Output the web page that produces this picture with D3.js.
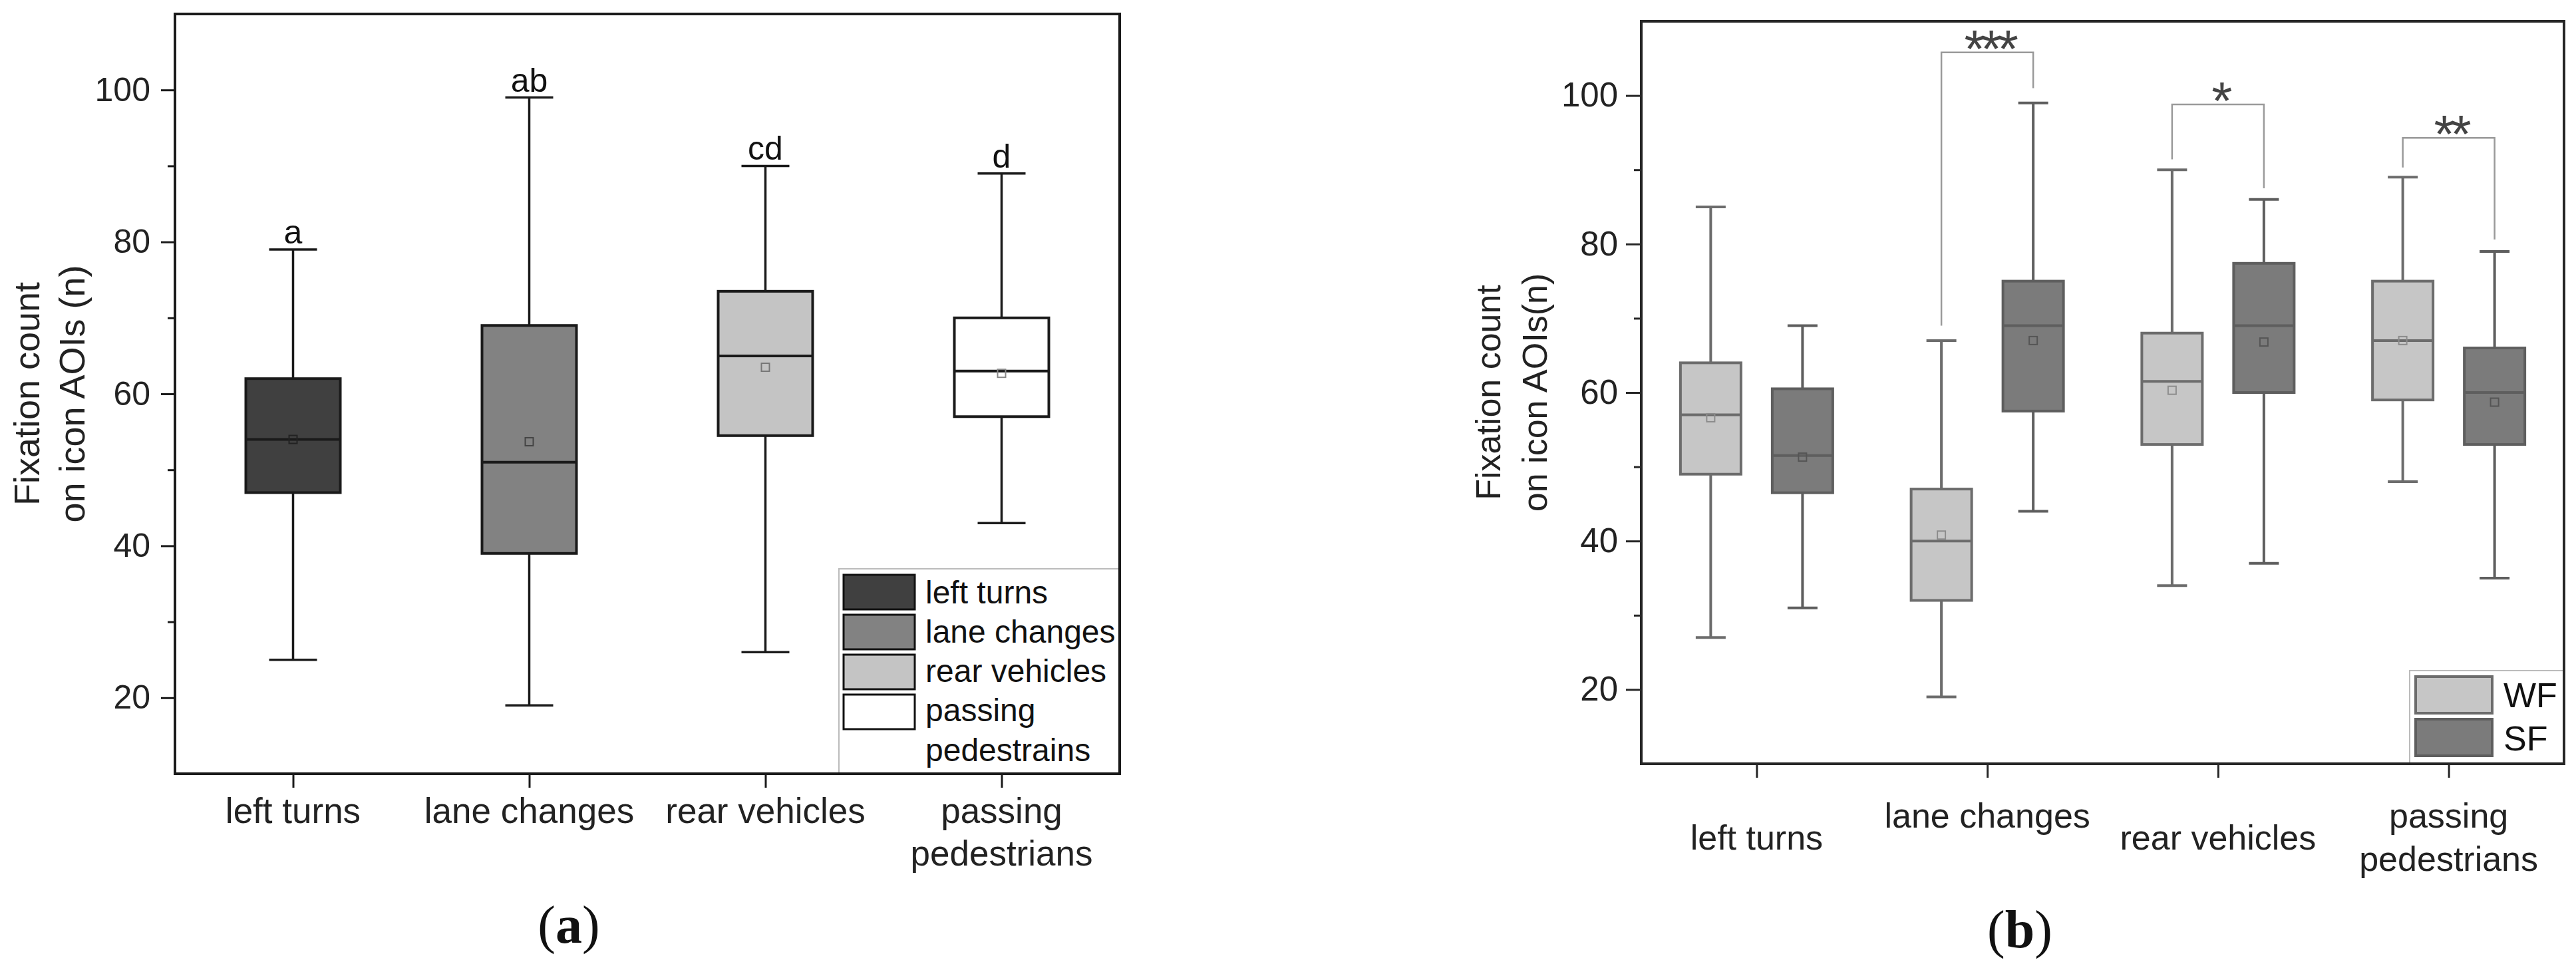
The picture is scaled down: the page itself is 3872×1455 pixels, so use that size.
<!DOCTYPE html>
<html>
<head>
<meta charset="utf-8">
<script src="https://cdn.jsdelivr.net/npm/d3@7"></script>
<style>
  body { margin: 0; background: #fff; }
  svg text { font-family: "Liberation Sans", Arial, sans-serif; }
</style>
</head>
<body>
<div id="chart"></div>
<script>
// categories and tick labels
const categories = ['left turns', 'lane changes', 'rear vehicles', 'passing pedestrians'];
const aTickLines = [['left turns'], ['lane changes'], ['rear vehicles'], ['passing', 'pedestrians']];
const bTickLines = [['left turns'], ['lane changes', ''], ['rear vehicles'], ['passing', 'pedestrians']];
const majorTicks = [20, 40, 60, 80, 100];
const minorTicks = [30, 50, 70, 90];

// panel (a): one box per category
const aLow = [25, 19, 26, 43];
const aQ1 = [47, 39, 54.5, 57];
const aMedian = [54, 51, 65, 63];
const aQ3 = [62, 69, 73.5, 70];
const aHigh = [79, 99, 90, 89];
const aMean = [54, 53.7, 63.5, 62.7];
const aLetters = ['a', 'ab', 'cd', 'd'];
const aLegend = [['left turns'], ['lane changes'], ['rear vehicles'], ['passing', 'pedestrains']];

// panel (b): WF vs SF
const groups = ['WF', 'SF'];
const wfLow = [27, 19, 34, 48];
const wfQ1 = [49, 32, 53, 59];
const wfMedian = [57, 40, 61.5, 67];
const wfQ3 = [64, 47, 68, 75];
const wfHigh = [85, 67, 90, 89];
const wfMean = [56.6, 40.8, 60.3, 67];
const sfLow = [31, 44, 37, 35];
const sfQ1 = [46.5, 57.5, 60, 53];
const sfMedian = [51.5, 69, 69, 60];
const sfQ3 = [60.5, 75, 77.4, 66];
const sfHigh = [69, 99, 86, 79];
const sfMean = [51.3, 67, 66.8, 58.7];

// significance brackets (category index, top, left leg end, right leg end)
const sigCat = [1, 2, 3];
const sigTop = [105.8, 98.8, 94.3];
const sigLeftEnd = [69, 91.4, 90.3];
const sigRightEnd = [101, 87.5, 80.6];
const sigLabels = ['***', '*', '**'];

const W = 3872, H = 1455;
const svg = d3.select('#chart').append('svg')
  .attr('width', W).attr('height', H);
svg.append('rect').attr('width', W).attr('height', H).attr('fill', '#fff');

function drawAxes(g, x, y, opt) {
  const [x0, x1] = x.range();
  const [y0, y1] = y.range();

  // minor ticks
  g.append('g')
    .attr('transform', `translate(${x0},0)`)
    .call(d3.axisLeft(y).tickValues(minorTicks).tickSize(11).tickSizeOuter(0).tickFormat(''))
    .call(s => s.select('.domain').remove())
    .call(s => s.selectAll('line').attr('stroke', opt.axisColor).attr('stroke-width', 3));

  // major ticks
  g.append('g')
    .attr('transform', `translate(${x0},0)`)
    .call(d3.axisLeft(y).tickValues(majorTicks).tickSize(opt.tickLen).tickPadding(opt.tickPad).tickSizeOuter(0))
    .call(s => s.select('.domain').remove())
    .call(s => s.selectAll('line').attr('stroke', opt.axisColor).attr('stroke-width', 3))
    .call(s => s.selectAll('text')
      .attr('font-size', opt.tickFont)
      .attr('fill', '#222')
      .style('font-family', '"Liberation Sans", Arial, sans-serif'));

  // x ticks
  g.append('g')
    .attr('transform', `translate(0,${y0})`)
    .call(d3.axisBottom(x).tickSize(21).tickSizeOuter(0).tickFormat(''))
    .call(s => s.select('.domain').remove())
    .call(s => s.selectAll('line').attr('stroke', opt.axisColor).attr('stroke-width', 3));

  // frame
  g.append('rect')
    .attr('x', x0).attr('y', y1)
    .attr('width', x1 - x0).attr('height', y0 - y1)
    .attr('fill', 'none')
    .attr('stroke', opt.axisColor)
    .attr('stroke-width', 4);
}

function drawBox(g, cx, w, capW, s, style) {
  // whiskers
  g.append('line')
    .attr('x1', cx).attr('x2', cx)
    .attr('y1', s.yLow).attr('y2', s.yQ1)
    .attr('stroke', style.line).attr('stroke-width', style.lw);
  g.append('line')
    .attr('x1', cx).attr('x2', cx)
    .attr('y1', s.yQ3).attr('y2', s.yHigh)
    .attr('stroke', style.line).attr('stroke-width', style.lw);
  [s.yLow, s.yHigh].forEach(yy => {
    g.append('line')
      .attr('x1', cx - capW / 2).attr('x2', cx + capW / 2)
      .attr('y1', yy).attr('y2', yy)
      .attr('stroke', style.line).attr('stroke-width', style.lw);
  });
  g.append('rect')
    .attr('x', cx - w / 2).attr('y', s.yQ3)
    .attr('width', w).attr('height', s.yQ1 - s.yQ3)
    .attr('fill', style.fill)
    .attr('stroke', style.line).attr('stroke-width', style.boxLw);
  g.append('line')
    .attr('x1', cx - w / 2).attr('x2', cx + w / 2)
    .attr('y1', s.yMed).attr('y2', s.yMed)
    .attr('stroke', style.line).attr('stroke-width', style.boxLw);
  g.append('rect')
    .attr('x', cx - 6).attr('y', s.yMean - 6)
    .attr('width', 12).attr('height', 12)
    .attr('fill', 'none')
    .attr('stroke', style.mean).attr('stroke-width', 2);
}

// ---------------- panel (a) ----------------
const ga = svg.append('g');
const xa = d3.scalePoint().domain(categories).range([263, 1683]).padding(0.5);
const ya = d3.scaleLinear().domain([10, 110]).range([1163, 21]);
const aFills = ['#404040', '#828282', '#c4c4c4', '#ffffff'];
const aMeanStroke = ['#222', '#444', '#777', '#888'];

// legend sits behind marks
const legA = ga.append('g');
legA.append('rect')
  .attr('x', 1261).attr('y', 855).attr('width', 422).attr('height', 308)
  .attr('fill', '#fff').attr('stroke', '#bbb').attr('stroke-width', 2);
aLegend.forEach((lines, i) => {
  legA.append('rect')
    .attr('x', 1268).attr('y', 864 + i * 60)
    .attr('width', 107).attr('height', 52)
    .attr('fill', aFills[i]).attr('stroke', '#111').attr('stroke-width', 3);
  const t = legA.append('text')
    .attr('x', 1391).attr('y', 907 + i * 59)
    .attr('font-size', 48).attr('fill', '#111');
  lines.forEach((ln, j) => {
    t.append('tspan').attr('x', 1391).attr('dy', j === 0 ? 0 : 60).text(ln);
  });
});

drawAxes(ga, xa, ya, { axisColor: '#1a1a1a', tickLen: 21, tickPad: 16, tickFont: 50 });

categories.forEach((c, i) => {
  const cx = xa(c);
  drawBox(ga, cx, 142, 72, {
    yLow: ya(aLow[i]), yQ1: ya(aQ1[i]), yMed: ya(aMedian[i]),
    yQ3: ya(aQ3[i]), yHigh: ya(aHigh[i]), yMean: ya(aMean[i])
  }, { fill: aFills[i], line: '#1a1a1a', lw: 3.5, boxLw: 4, mean: aMeanStroke[i] });
  ga.append('text')
    .attr('x', cx).attr('y', ya(aHigh[i]) - 9)
    .attr('text-anchor', 'middle')
    .attr('font-size', 50).attr('fill', '#111')
    .text(aLetters[i]);
  const t = ga.append('text')
    .attr('x', cx).attr('y', 1237)
    .attr('text-anchor', 'middle')
    .attr('font-size', 53).attr('fill', '#222');
  aTickLines[i].forEach((ln, j) => {
    t.append('tspan').attr('x', cx).attr('dy', j === 0 ? 0 : 64).text(ln);
  });
});

// y title (a)
const ta = ga.append('text')
  .attr('transform', `translate(59,${(ya.range()[0] + ya.range()[1]) / 2}) rotate(-90)`)
  .attr('text-anchor', 'middle').attr('font-size', 54).attr('fill', '#222');
ta.append('tspan').attr('x', 0).attr('y', 0).text('Fixation count');
ta.append('tspan').attr('x', 0).attr('y', 68).text('on icon AOIs (n)');

// caption (a)
const capA = svg.append('text')
  .attr('x', 855).attr('y', 1417)
  .attr('text-anchor', 'middle')
  .attr('font-size', 80).attr('fill', '#111')
  .style('font-family', '"Liberation Serif", "Times New Roman", serif');
capA.append('tspan').text('(');
capA.append('tspan').attr('font-weight', 'bold').text('a');
capA.append('tspan').text(')');

// ---------------- panel (b) ----------------
const gb = svg.append('g');
const xb = d3.scalePoint().domain(categories).range([2467, 3854]).padding(0.5);
const yb = d3.scaleLinear().domain([10, 110]).range([1148, 32]);
const xg = d3.scalePoint().domain(groups).range([-69, 69]);
const bStyle = {
  WF: { fill: '#c6c6c6', line: '#6c6c6c', lw: 4, boxLw: 4, mean: '#8c8c8c' },
  SF: { fill: '#7b7b7b', line: '#5e5e5e', lw: 4, boxLw: 4, mean: '#555' }
};

// legend (b)
const legB = gb.append('g');
legB.append('rect')
  .attr('x', 3622).attr('y', 1008).attr('width', 232).attr('height', 140)
  .attr('fill', '#fff').attr('stroke', '#bbb').attr('stroke-width', 2);
groups.forEach((gname, i) => {
  legB.append('rect')
    .attr('x', 3631).attr('y', 1017 + i * 64)
    .attr('width', 115).attr('height', 55)
    .attr('fill', bStyle[gname].fill).attr('stroke', bStyle[gname].line).attr('stroke-width', 4);
  legB.append('text')
    .attr('x', 3763).attr('y', 1063 + i * 65)
    .attr('font-size', 52).attr('fill', '#111')
    .text(gname);
});

drawAxes(gb, xb, yb, { axisColor: '#262626', tickLen: 23, tickPad: 12, tickFont: 51 });

const bSeries = {
  WF: [wfLow, wfQ1, wfMedian, wfQ3, wfHigh, wfMean],
  SF: [sfLow, sfQ1, sfMedian, sfQ3, sfHigh, sfMean]
};
categories.forEach((c, i) => {
  groups.forEach(gname => {
    const [lo, q1, md, q3, hi, mn] = bSeries[gname];
    drawBox(gb, xb(c) + xg(gname), 91, 45, {
      yLow: yb(lo[i]), yQ1: yb(q1[i]), yMed: yb(md[i]),
      yQ3: yb(q3[i]), yHigh: yb(hi[i]), yMean: yb(mn[i])
    }, bStyle[gname]);
  });
  const t = gb.append('text')
    .attr('text-anchor', 'middle')
    .attr('font-size', 52).attr('fill', '#222');
  const lines = bTickLines[i];
  const y0 = 1276.5 - (lines.length - 1) * 32.5;
  lines.forEach((ln, j) => {
    t.append('tspan').attr('x', xb(c)).attr('y', y0 + j * 65).text(ln);
  });
});

// brackets
sigCat.forEach((ci, k) => {
  const c = categories[ci];
  const xl = xb(c) + xg('WF'), xr = xb(c) + xg('SF');
  gb.append('path')
    .attr('d', d3.line()([[xl, yb(sigLeftEnd[k])], [xl, yb(sigTop[k])], [xr, yb(sigTop[k])], [xr, yb(sigRightEnd[k])]]))
    .attr('fill', 'none').attr('stroke', '#9a9a9a').attr('stroke-width', 2.5);
  gb.append('text')
    .attr('x', (xl + xr) / 2 + 3).attr('y', yb(sigTop[k]) + 22)
    .attr('text-anchor', 'middle')
    .attr('font-size', 80).attr('letter-spacing', -6).attr('fill', '#444')
    .text(sigLabels[k]);
});

// y title (b)
const tb = gb.append('text')
  .attr('transform', `translate(2255,${(yb.range()[0] + yb.range()[1]) / 2}) rotate(-90)`)
  .attr('text-anchor', 'middle').attr('font-size', 52).attr('fill', '#222');
tb.append('tspan').attr('x', 0).attr('y', 0).text('Fixation count');
tb.append('tspan').attr('x', 0).attr('y', 70).text('on icon AOIs(n)');

// caption (b)
const capB = svg.append('text')
  .attr('x', 3036).attr('y', 1424)
  .attr('text-anchor', 'middle')
  .attr('font-size', 80).attr('fill', '#111')
  .style('font-family', '"Liberation Serif", "Times New Roman", serif');
capB.append('tspan').text('(');
capB.append('tspan').attr('font-weight', 'bold').text('b');
capB.append('tspan').text(')');
</script>
</body>
</html>
